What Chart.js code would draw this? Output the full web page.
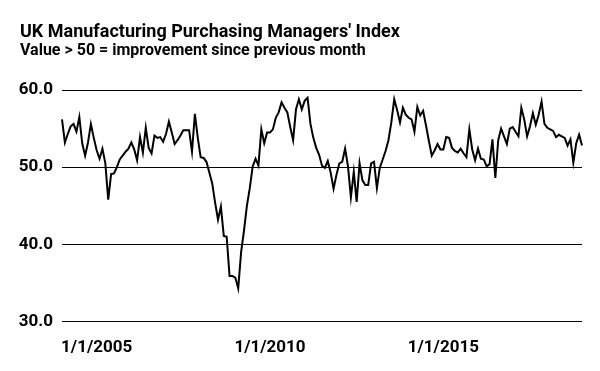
<!DOCTYPE html>
<html>
<head>
<meta charset="utf-8">
<script src="https://cdn.jsdelivr.net/npm/chart.js@4"></script>
<style>
  html, body { margin: 0; padding: 0; background: #fff; }
  #wrap { width: 600px; height: 371px; }
</style>
</head>
<body>
<div id="wrap"><canvas id="myChart" width="600" height="371"></canvas></div>
<script>
// monthly series, Jan 2004 .. Jan 2019
const startYear = 2004;
const pmiValues = [
  56.2, 53.2, 54.3, 55.3, 55.6, 54.6, 56.5, 53.1, 51.5, 53.2, 55.6, 53.8,
  52.2, 51.1, 52.4, 50.5, 45.8, 49.1, 49.2, 50.0, 51.0, 51.5, 52.0, 52.4,
  53.2, 52.3, 50.9, 53.9, 51.9, 55.1, 52.5, 51.8, 54.1, 53.8, 53.9, 53.3,
  54.3, 55.9, 54.5, 53.0, 53.5, 54.1, 54.8, 54.8, 54.8, 52.0, 56.9, 53.8,
  51.3, 51.2, 50.7, 49.3, 47.9, 45.4, 43.2, 44.9, 41.1, 41.0, 35.9, 35.9,
  35.7, 34.3, 39.0, 41.8, 45.0, 47.3, 50.1, 51.1, 50.2, 54.9, 53.1, 54.5,
  54.5, 54.9, 56.4, 57.1, 58.4, 57.7, 57.1, 55.2, 53.5, 57.5, 58.8, 57.5,
  58.6, 59.0, 55.6, 53.8, 52.5, 51.6, 50.2, 49.9, 50.8, 49.3, 47.2, 49.0,
  50.5, 50.7, 52.4, 50.1, 46.1, 49.4, 45.5, 50.5, 48.3, 47.7, 47.7, 50.5,
  50.7, 47.3, 49.9, 51.0, 52.1, 53.5, 55.8, 58.8, 57.4, 55.8, 57.7, 56.8,
  56.4, 56.2, 54.6, 57.8, 56.7, 57.3, 55.4, 53.4, 51.5, 52.2, 53.0, 52.3,
  52.3, 53.9, 53.8, 52.5, 52.1, 51.9, 52.4, 51.8, 51.3, 54.9, 52.3, 50.9,
  52.4, 51.1, 51.0, 50.1, 50.4, 53.6, 48.6, 53.5, 55.0, 54.0, 53.0, 55.0,
  55.2, 54.6, 54.0, 57.7, 56.2, 54.0, 55.3, 57.0, 55.5, 56.8, 58.5, 55.6,
  55.1, 54.9, 54.7, 53.9, 54.2, 54.0, 53.8, 52.8, 53.6, 50.6, 53.1, 54.2,
  52.8
];
const shownYears = [2005, 2010, 2015];
const yTicks = [30, 40, 50, 60];

const monthLabels = pmiValues.map((v, i) => {
  const m = (i % 12) + 1;
  const y = startYear + Math.floor(i / 12);
  return m + '/1/' + y;
});

const titlePlugin = {
  id: 'titles',
  afterDraw(chart) {
    const ctx = chart.ctx;
    ctx.save();
    ctx.fillStyle = '#000';
    ctx.textAlign = 'left';
    ctx.textBaseline = 'alphabetic';
    ctx.font = 'bold 18px Roboto';
    ctx.fillText("UK Manufacturing Purchasing Managers' Index", 20, 37);
    ctx.font = 'bold 16px Roboto';
    ctx.fillText('Value > 50 = improvement since previous month', 20, 55);
    ctx.restore();
  }
};

const ctx = document.getElementById('myChart').getContext('2d');
new Chart(ctx, {
  type: 'line',
  data: {
    labels: monthLabels,
    datasets: [{
      data: pmiValues,
      borderColor: '#000',
      borderWidth: 2,
      pointRadius: 0,
      tension: 0,
      fill: false
    }]
  },
  options: {
    responsive: false,
    animation: false,
    layout: { padding: { top: 90, left: 18, right: 18, bottom: 5 } },
    plugins: {
      legend: { display: false },
      tooltip: { enabled: false }
    },
    scales: {
      x: {
        offset: false,
        grid: { display: false },
        border: { display: false },
        ticks: {
          autoSkip: false,
          maxRotation: 0,
          padding: 8,
          color: '#000',
          font: { family: 'Roboto', size: 17, weight: 'bold' },
          callback: function(val, idx) {
            const lab = monthLabels[idx];
            const parts = lab.split('/');
            if (parts[0] === '1' && shownYears.includes(Number(parts[2]))) return lab;
            return null;
          }
        }
      },
      y: {
        min: 30,
        max: 60,
        afterFit: function(scale) { scale.width = 44; },
        afterBuildTicks: function(scale) { scale.ticks = yTicks.map(v => ({ value: v })); },
        grid: { color: '#000', lineWidth: 1, drawTicks: false },
        border: { display: false },
        ticks: {
          padding: 9,
          color: '#000',
          font: { family: 'Roboto', size: 17, weight: 'bold' },
          callback: v => v.toFixed(1)
        }
      }
    }
  },
  plugins: [titlePlugin]
});
</script>
</body>
</html>
